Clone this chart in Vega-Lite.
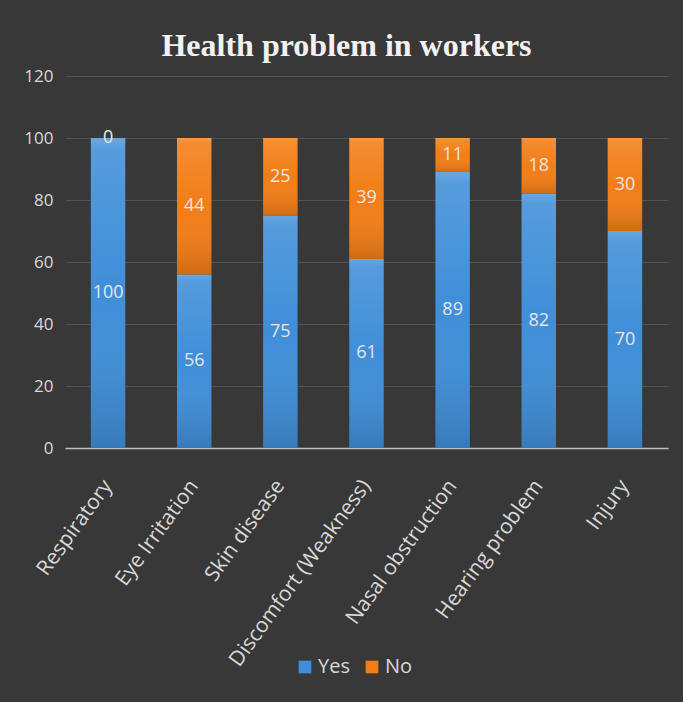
{
  "$schema": "https://vega.github.io/schema/vega-lite/v6.json",
  "autosize": {"type": "none"},
  "width": 603,
  "height": 372,
  "padding": {"left": 65, "top": 76, "right": 15, "bottom": 254},
  "background": "#383838",
  "config": {"view": {"stroke": null}},
  "title": {
    "text": "Health problem in workers",
    "font": "Liberation Serif",
    "fontSize": 32,
    "fontWeight": "bold",
    "color": "#f2f2f2",
    "anchor": "middle",
    "dx": -20,
    "offset": 4
  },
  "data": {
    "values": [
      {"problem": "Respiratory", "answer": "Yes", "order": 1, "value": 100},
      {"problem": "Respiratory", "answer": "No", "order": 2, "value": 0},
      {"problem": "Eye Irritation", "answer": "Yes", "order": 1, "value": 56},
      {"problem": "Eye Irritation", "answer": "No", "order": 2, "value": 44},
      {"problem": "Skin disease", "answer": "Yes", "order": 1, "value": 75},
      {"problem": "Skin disease", "answer": "No", "order": 2, "value": 25},
      {"problem": "Discomfort (Weakness)", "answer": "Yes", "order": 1, "value": 61},
      {"problem": "Discomfort (Weakness)", "answer": "No", "order": 2, "value": 39},
      {"problem": "Nasal obstruction", "answer": "Yes", "order": 1, "value": 89},
      {"problem": "Nasal obstruction", "answer": "No", "order": 2, "value": 11},
      {"problem": "Hearing problem", "answer": "Yes", "order": 1, "value": 82},
      {"problem": "Hearing problem", "answer": "No", "order": 2, "value": 18},
      {"problem": "Injury", "answer": "Yes", "order": 1, "value": 70},
      {"problem": "Injury", "answer": "No", "order": 2, "value": 30}
    ]
  },
  "transform": [
    {"stack": "value", "groupby": ["problem"], "sort": [{"field": "order", "order": "ascending"}], "as": ["v0", "v1"]},
    {"calculate": "(datum.v0 + datum.v1) / 2", "as": "vmid"}
  ],
  "encoding": {
    "x": {
      "field": "problem",
      "type": "nominal",
      "sort": null,
      "title": null,
      "scale": {"paddingInner": 0.6, "paddingOuter": 0.3},
      "axis": {
        "labelAngle": -54,
        "labelFont": "Open Sans",
        "labelFontSize": 21,
        "labelColor": "#d9d9d9",
        "labelPadding": 34,
        "labelLimit": 0,
        "ticks": false,
        "domainColor": "#bfbfbf",
        "domainWidth": 1.5,
        "grid": false
      }
    }
  },
  "layer": [
    {
      "mark": {"type": "bar"},
      "encoding": {
        "y": {
          "field": "v0",
          "type": "quantitative",
          "title": null,
          "scale": {"domain": [0, 120]},
          "axis": {
            "values": [0, 20, 40, 60, 80, 100, 120],
            "labelFont": "Open Sans",
            "labelFontSize": 17,
            "labelColor": "#d9d9d9",
            "labelPadding": 12,
            "ticks": false,
            "domain": false,
            "grid": true,
            "gridColor": "#595959",
            "gridWidth": 0.8
          }
        },
        "y2": {"field": "v1"},
        "color": {
          "field": "answer",
          "type": "nominal",
          "sort": ["Yes", "No"],
          "scale": {"domain": ["Yes", "No"], "range": ["#3f8ed8", "#f27d16"]},
          "legend": {
            "title": null,
            "orient": "none",
            "direction": "horizontal",
            "legendX": 230,
            "legendY": 581,
            "symbolType": "square",
            "symbolSize": 160,
            "symbolStrokeWidth": 0,
            "labelFont": "Open Sans",
            "labelFontSize": 20,
            "labelColor": "#d9d9d9",
            "columnPadding": 12,
            "labelOffset": 3
          }
        }
      }
    },
    {
      "mark": {
        "type": "bar",
        "fill": {
          "gradient": "linear",
          "x1": 0, "y1": 0, "x2": 0, "y2": 1,
          "stops": [
            {"offset": 0, "color": "rgba(255,255,255,0.22)"},
            {"offset": 0.04, "color": "rgba(255,255,255,0.12)"},
            {"offset": 0.5, "color": "rgba(255,255,255,0.0)"},
            {"offset": 1, "color": "rgba(0,0,0,0.14)"}
          ]
        }
      },
      "encoding": {
        "y": {"field": "v0", "type": "quantitative"},
        "y2": {"field": "v1"}
      }
    },
    {
      "mark": {"type": "text", "font": "Open Sans", "fontSize": 18, "color": "#e6e6e6", "baseline": "middle", "align": "center"},
      "encoding": {
        "y": {"field": "vmid", "type": "quantitative"},
        "text": {"field": "value", "type": "quantitative"}
      }
    }
  ]
}
